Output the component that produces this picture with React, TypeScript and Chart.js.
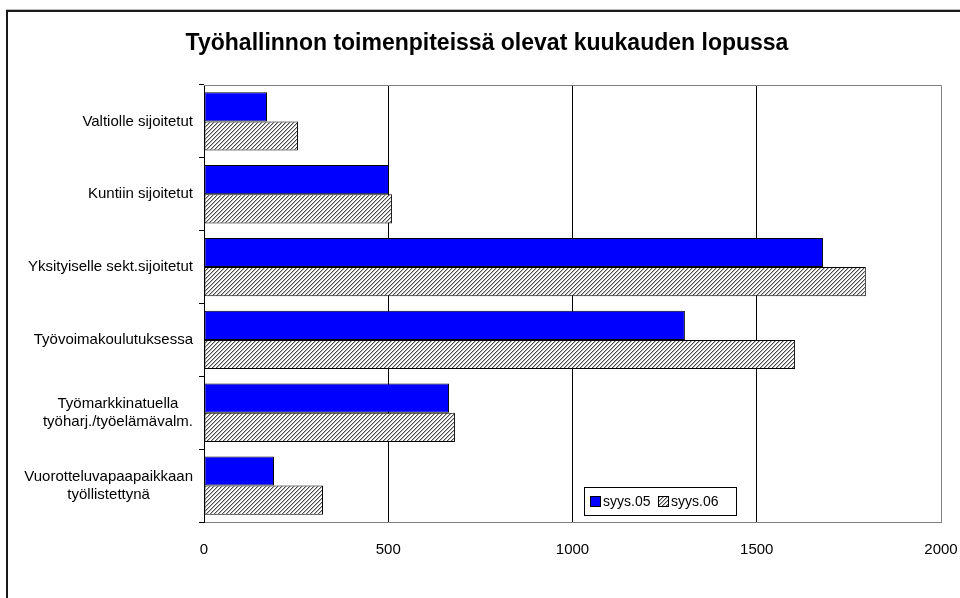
import React, { useEffect, useRef } from "react";
import { Chart, registerables } from "chart.js";

Chart.register(...registerables);

const TITLE = "Työhallinnon toimenpiteissä olevat kuukauden lopussa";
const categories: string[][] = [
  ["Valtiolle sijoitetut"],
  ["Kuntiin sijoitetut"],
  ["Yksityiselle sekt.sijoitetut"],
  ["Työvoimakoulutuksessa"],
  ["Työmarkkinatuella", "työharj./työelämävalm."],
  ["Vuorotteluvapaapaikkaan", "työllistettynä"],
];
const seriesNames = ["syys.05", "syys.06"];
const syys05 = [171, 502, 1680, 1305, 665, 190];
const syys06 = [255, 510, 1796, 1604, 681, 323];
const xTicks = [0, 500, 1000, 1500, 2000];

const FONT = "Arial, 'Liberation Sans', sans-serif";

function makeHatch(): CanvasPattern | string {
  const c = document.createElement("canvas");
  c.width = 4;
  c.height = 4;
  const g = c.getContext("2d");
  if (!g) return "#aaaaaa";
  g.fillStyle = "#ffffff";
  g.fillRect(0, 0, 4, 4);
  g.fillStyle = "#4a4a4a";
  for (let i = 0; i < 4; i++) {
    g.fillRect(3 - i, i, 1, 1);
  }
  g.fillStyle = "#b8b8b8";
  for (let i = 0; i < 4; i++) {
    g.fillRect((4 - i) % 4, i, 1, 1);
  }
  const p = g.createPattern(c, "repeat");
  return p || "#aaaaaa";
}

export default function App() {
  const ref = useRef<HTMLCanvasElement | null>(null);

  useEffect(() => {
    if (!ref.current) return;
    const hatch = makeHatch();

    const decor = {
      id: "decor",
      beforeDraw(chart: any) {
        const ctx = chart.ctx;
        ctx.save();
        ctx.fillStyle = "#ffffff";
        ctx.fillRect(0, 0, chart.width, chart.height);
        // outer frame
        ctx.fillStyle = "#bbbbbb";
        ctx.fillRect(6, 9, 954, 1);
        ctx.fillStyle = "#1a1a1a";
        ctx.fillRect(6, 10, 2, 588);
        ctx.fillRect(6, 10, 954, 2);
        // title
        ctx.fillStyle = "#000";
        ctx.font = `bold 23px ${FONT}`;
        ctx.textAlign = "center";
        ctx.textBaseline = "middle";
        ctx.fillText(TITLE, 487, 44);
        ctx.restore();
      },
      afterDraw(chart: any) {
        const ctx = chart.ctx;
        const a = chart.chartArea;
        ctx.save();
        // plot border top/right
        ctx.strokeStyle = "#808080";
        ctx.lineWidth = 1;
        ctx.beginPath();
        ctx.moveTo(a.left, a.top + 0.5);
        ctx.lineTo(a.right + 0.5, a.top + 0.5);
        ctx.lineTo(a.right + 0.5, a.bottom);
        ctx.stroke();
        // category labels
        const ys = chart.scales.y;
        ctx.fillStyle = "#000";
        ctx.font = `15px ${FONT}`;
        ctx.textBaseline = "middle";
        ctx.textAlign = "center";
        categories.forEach((lines, i) => {
          const cy = ys.getPixelForValue(i);
          let maxW = 0;
          lines.forEach((l) => (maxW = Math.max(maxW, ctx.measureText(l).width)));
          const cx = 193 - maxW / 2;
          const lh = 18;
          const y0 = cy - ((lines.length - 1) * lh) / 2;
          lines.forEach((l, k) => ctx.fillText(l, cx, y0 + k * lh));
        });
        // legend
        const lx = 584, ly = 487, lw = 152, lhgt = 28;
        ctx.fillStyle = "#fff";
        ctx.fillRect(lx, ly, lw, lhgt);
        ctx.strokeStyle = "#000";
        ctx.strokeRect(lx + 0.5, ly + 0.5, lw, lhgt);
        const fills = [chart.data.datasets[0].backgroundColor, chart.data.datasets[1].backgroundColor];
        const positions = [590, 658];
        ctx.textAlign = "left";
        ctx.font = `14px ${FONT}`;
        seriesNames.forEach((n, i) => {
          const sx = positions[i];
          ctx.fillStyle = fills[i];
          ctx.fillRect(sx, ly + 9, 10, 10);
          ctx.strokeStyle = "#000";
          ctx.strokeRect(sx + 0.5, ly + 9.5, 10, 10);
          ctx.fillStyle = "#000";
          ctx.fillText(n, sx + 13, ly + 15);
        });
        ctx.restore();
      },
    };

    const chart = new Chart(ref.current, {
      type: "bar",
      data: {
        labels: categories.map((c) => c.join(" ")),
        datasets: [
          {
            label: seriesNames[0],
            data: syys05,
            backgroundColor: "#0000ff",
            borderColor: "#000",
            borderWidth: 1,
            borderSkipped: false,
            categoryPercentage: 0.8,
            barPercentage: 1,
          },
          {
            label: seriesNames[1],
            data: syys06,
            backgroundColor: hatch as any,
            borderColor: "#000",
            borderWidth: 1,
            borderSkipped: false,
            categoryPercentage: 0.8,
            barPercentage: 1,
          },
        ],
      },
      options: {
        indexAxis: "y",
        responsive: false,
        animation: false,
        devicePixelRatio: 1,
        layout: { padding: { left: 0, right: 19, top: 85, bottom: 0 } },
        plugins: {
          legend: { display: false },
          title: { display: false },
          tooltip: { enabled: false },
        },
        scales: {
          x: {
            min: 0,
            max: 2000,
            afterBuildTicks: (s: any) => {
              s.ticks = xTicks.map((v) => ({ value: v }));
            },
            afterFit: (s: any) => {
              s.height = 76;
              s.paddingRight = 0;
              s.paddingLeft = 0;
            },
            ticks: {
              color: "#000",
              font: { family: FONT, size: 15 },
              padding: 19,
              callback: (v: any) => String(v),
            },
            grid: {
              drawTicks: false,
              color: (c: any) =>
                c.tick && (c.tick.value === 0 || c.tick.value === 2000) ? "rgba(0,0,0,0)" : "#000",
            },
            border: { color: "#808080", width: 1 },
          },
          y: {
            afterFit: (s: any) => {
              s.width = 204;
            },
            ticks: { display: false },
            grid: {
              offset: true,
              drawOnChartArea: false,
              drawTicks: true,
              tickLength: 5,
              color: "#000",
            },
            border: { color: "#000", width: 1 },
          },
        },
      },
      plugins: [decor],
    } as any);

    return () => chart.destroy();
  }, []);

  return (
    <div style={{ position: "fixed", left: 0, top: 0, width: 960, height: 598, background: "#fff" }}>
      <canvas ref={ref} width={960} height={598} />
    </div>
  );
}
